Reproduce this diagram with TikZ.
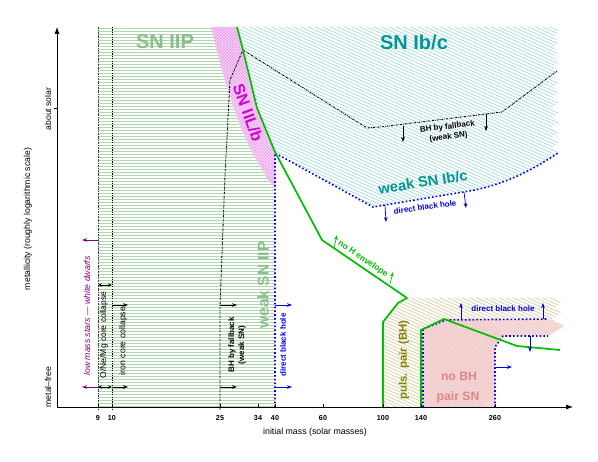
\documentclass[tikz,border=0pt]{standalone}
\usepackage{fontspec}
\setmainfont{Liberation Sans}
\usetikzlibrary{arrows.meta}
\definecolor{iipline}{RGB}{175,214,175}
\definecolor{iiptext}{RGB}{140,190,140}
\definecolor{ibcline}{RGB}{155,214,214}
\definecolor{ibctext}{RGB}{0,150,150}
\definecolor{ilbfill}{RGB}{250,215,250}
\definecolor{ilbline}{RGB}{232,145,232}
\definecolor{ilbtext}{RGB}{210,0,210}
\definecolor{ppline}{RGB}{210,202,150}
\definecolor{pptext}{RGB}{130,130,0}
\definecolor{pairfill}{RGB}{253,236,236}
\definecolor{pairline}{RGB}{240,190,190}
\definecolor{pairtext}{RGB}{222,135,135}
\definecolor{bhblue}{RGB}{0,0,235}
\definecolor{envgreen}{RGB}{0,190,0}
\definecolor{wdpurple}{RGB}{130,0,130}
\newcommand\fsz[1]{\fontsize{#1}{#1}\selectfont}
\tikzset{
  bord/.style={envgreen, line width=1.7pt, line join=round},
  bhline/.style={bhblue, line width=1.6pt, dash pattern=on 1.6pt off 2.2pt},
  fbline/.style={black, line width=0.85pt, dash pattern=on 2pt off 1pt on 0.6pt off 1pt},
  arr/.style={-{Stealth[length=5pt,width=3.6pt]}, line width=0.7pt},
  darr/.style={{Stealth[length=4pt,width=3.4pt]}-{Stealth[length=4pt,width=3.4pt]}, line width=0.7pt},
  lbl/.style={inner sep=0pt, font=\fsz{8.5}},
  lblb/.style={inner sep=0pt, font=\fontsize{8}{10}\selectfont\bfseries, align=center},
  bigl/.style={inner sep=0pt, font=\fsz{20}\bfseries},
  tick/.style={inner sep=0pt, font=\fsz{7.2}\bfseries},
}
\begin{document}
\begin{tikzpicture}[x=1pt,y=-1pt]
\useasboundingbox (0,0) rectangle (598,462);

% ---------- SN IIP hatch
\begin{scope}
\clip (98,27) -- (211,27) .. controls (228,95) and (240,140) .. (273,186) -- (275,186) -- (275,407) -- (98,407) -- cycle;
\foreach \y in {28.5,31.5,...,406.5} \draw[iipline, line width=0.9pt] (95,\y) -- (280,\y);
\end{scope}

% ---------- SN IIL/b
\begin{scope}
\clip (211,27) -- (237,27) -- (243,50) -- (257,108) -- (275,152) -- (275,186) -- (273,186) .. controls (240,140) and (228,95) .. (211,27) -- cycle;
\fill[ilbfill] (200,20) rectangle (290,200);
\foreach \c in {20,23,...,290} {
  \draw[ilbline, line width=0.3pt] ({\c-180},20) -- ++(180,180);
  \draw[ilbline, line width=0.3pt] (\c,20) -- ++(180,180);
  \draw[ilbline, line width=0.3pt] (\c,200) -- ++(180,-180);
  \draw[ilbline, line width=0.3pt] ({\c-180},200) -- ++(180,-180);
}
\end{scope}

% ---------- SN Ib/c
\begin{scope}
\clip (237,27) -- (553,27) -- (560,32) -- (552,37) -- (560,42) -- (552,47) -- (560,52) -- (552,57) -- (560,62) -- (552,67) -- (560,72) -- (552,77) -- (560,82) -- (552,87) -- (560,92) -- (552,97) -- (560,102) -- (552,107) -- (560,112) -- (552,117) -- (560,122) -- (552,127) -- (560,132) -- (552,137) -- (560,142) -- (552,147) -- (558,153)
  .. controls (535,168) and (505,186) .. (463,192) -- (385,205) -- (373,207) -- (275,152) -- (257,108) -- (243,50) -- cycle;
\foreach \c in {-160,-156.7,...,215} \draw[ibcline, line width=0.6pt] (230,\c) -- (570,{\c+153});
\end{scope}

% ---------- pulsational pair (BH)
\begin{scope}
\clip (383,407) -- (383,322) -- (398,303) -- (407,298) -- (553,298) -- (561,303) -- (554,308) -- (561,313) -- (552,319) -- (444,319) -- (421,330) -- (421,407) -- cycle;
\foreach \c in {120,123.3,...,420} \draw[ppline, line width=0.6pt] (375,\c) -- (570,{\c+88});
\end{scope}

% ---------- pair SN (no BH)
\begin{scope}
\clip (421,407) -- (421,330) -- (444,319) -- (550,319) -- (564,326) -- (550,335) -- (503,336) -- (495,347) -- (495,407) -- cycle;
\fill[pairfill] (410,310) rectangle (570,410);
\foreach \c in {230,233,...,580} {
  \draw[pairline, line width=0.3pt] (\c,310) -- ++(-100,100);
  \draw[pairline, line width=0.3pt] ({\c+100},310) -- ++(-100,100);
  \draw[pairline, line width=0.3pt] (\c,410) -- ++(-100,-100);
  \draw[pairline, line width=0.3pt] ({\c+100},410) -- ++(-100,-100);
}
\end{scope}

% ---------- vertical mass lines
\draw[black!75, line width=0.8pt, dash pattern=on 2pt off 1pt on 0.6pt off 1pt] (98,27) -- (98,410);
\draw[black, line width=0.8pt, dash pattern=on 1.2pt off 1.2pt] (112,27) -- (112,410);

% ---------- BH by fallback line
\draw[fbline] (220,410) -- (220,307) -- (225,175) -- (230,80) -- (243,50) -- (367,128) -- (380,127) -- (502,112) -- (557,71);

% ---------- direct black hole lines
\draw[bhline] (275,407) -- (275,153) -- (373,207) -- (385,205) -- (463,192) .. controls (505,186) and (535,168) .. (558,153);
\draw[bhline] (423,407) -- (423,329) -- (446,320) -- (548,319);
\draw[bhline] (495,407) -- (495,347) -- (503,336) -- (548,336);

% ---------- green borders
\draw[bord] (237,27) -- (243,50) -- (257,108) -- (275,152) -- (322,240) -- (407,298) -- (398,303) -- (383,322) -- (383,407);
\draw[bord] (421,407) -- (421,330) -- (444,319) -- (517,346) -- (560,350);

% ---------- axes
\draw[line width=0.7pt, -{Latex[length=7pt,width=5pt]}] (57,407) -- (57,27);
\draw[line width=0.7pt, -{Latex[length=7pt,width=5pt]}] (57,407) -- (573,407);
\draw[line width=0.6pt] (54,108) -- (57,108);
\foreach \x in {98,112,220,258,275,323,383,421,495} \draw[line width=0.6pt] (\x,404) -- (\x,407);

% tick labels
\node[tick] (t9) at (98,418) {9};
\node[tick] (t10) at (112,418) {10};
\node[tick] (t25) at (220,418) {25};
\node[tick] (t34) at (258,418) {34};
\node[tick] (t40) at (275,418) {40};
\node[tick] (t60) at (323,418) {60};
\node[tick] (t100) at (383,418) {100};
\node[tick] (t140) at (421,418) {140};
\node[tick] (t260) at (495,418) {260};
\node[lbl, font=\fsz{8.8}] (xl) at (315,432) {initial mass (solar masses)};
\node[lbl, font=\fsz{8.7}, rotate=90] (yl) at (28,219) {metallicity (roughly logarithmic scale)};
\node[lbl, font=\fsz{8.6}, rotate=90] (ys) at (48,109) {about solar};
\node[lbl, font=\fsz{8.6}, rotate=90] (ym) at (48,387) {metal--free};

% ---------- arrows
\draw[arr, wdpurple] (98,240) -- (82,240);
\draw[arr, wdpurple] (98,387) -- (82,387);
\draw[darr] (98,285) -- (112,285);
\draw[darr] (98,387) -- (112,387);
\draw[arr] (112,305) -- (128,305);
\draw[arr] (112,387) -- (128,387);
\draw[arr] (220,305) -- (237,305);
\draw[arr] (220,387) -- (237,387);
\draw[arr, bhblue] (275,305) -- (292,305);
\draw[arr, bhblue] (275,387) -- (292,387);
\draw[arr, envgreen] (334,248) -- (337,235);
\draw[arr, envgreen] (390,284) -- (393,272);
\draw[arr, bhblue] (385,205) -- (386,222);
\draw[arr, bhblue] (464,192) -- (466,208);
\draw[arr] (403,126) -- (403,142);
\draw[arr] (486,114) -- (486,131);
\draw[arr, bhblue] (461,319) -- (461,303);
\draw[arr, bhblue] (543,319) -- (543,303);
\draw[arr, bhblue] (495,367) -- (512,367);
\draw[arr, bhblue] (530,336) -- (530,352);

% ---------- region labels
\node[bigl, text=iiptext] (liip) at (165,42) {SN IIP};
\node[bigl, text=ibctext] (libc) at (414,42) {SN Ib/c};
\node[inner sep=0pt, font=\fsz{16}\bfseries, text=ilbtext, rotate=-70] (lilb) at (248,113) {SN IIL/b};
\node[inner sep=0pt, font=\fsz{15.5}\bfseries, text=iiptext, rotate=90] (lwiip) at (263,285) {weak SN IIP};
\node[inner sep=0pt, font=\fsz{14.7}\bfseries, text=ibctext, rotate=9] (lwibc) at (423,182) {weak SN Ib/c};
\node[lblb, text=bhblue, rotate=8] (ldbh1) at (425,207) {direct black hole};
\node[lblb, rotate=7] (lfb1) at (448,132) {BH by fallback\\(weak SN)};
\node[lbl, font=\fsz{8.5}\bfseries, text=envgreen, rotate=-34] (lnoh) at (363,259) {no H envelope};
\node[lbl, font=\fsz{8.7}\itshape, text=wdpurple, rotate=90] (lwd) at (87,316) {low mass stars \textemdash\ white dwarfs};
\node[lblb, font=\fsz{8.5}, rotate=90] (lone) at (104,335) {O/Ne/Mg core collapse};
\node[lblb, font=\fsz{8.7}, rotate=90] (lfe) at (123,341) {iron core collapse};
\node[lblb, rotate=90] (lfb2) at (237,345) {BH by fallback\\(weak SN)};
\node[lblb, text=bhblue, rotate=90] (ldbh2) at (283,345) {direct black hole};
\node[inner sep=0pt, font=\fsz{11.4}\bfseries, text=pptext, rotate=90] (lpp) at (404,360) {puls. pair (BH)};
\node[inner sep=0pt, font=\fsz{12.2}\bfseries, text=pairtext] (lnobh) at (459,376) {no BH};
\node[inner sep=0pt, font=\fsz{12.2}\bfseries, text=pairtext] (lpsn) at (458,397) {pair SN};
\node[lblb, text=bhblue] (ldbh3) at (503,309) {direct black hole};
\end{tikzpicture}
\end{document}
